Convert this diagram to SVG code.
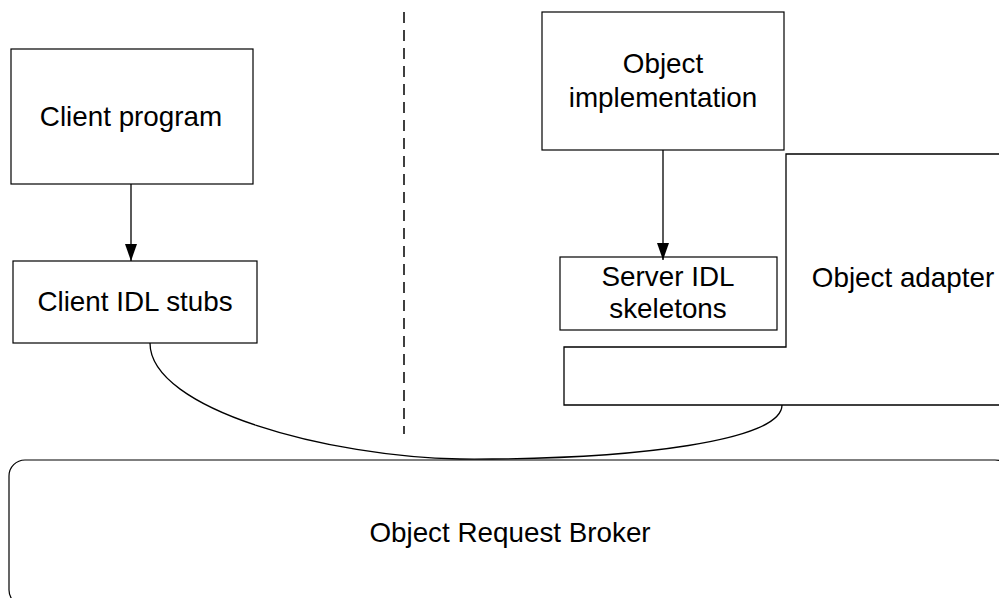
<svg xmlns="http://www.w3.org/2000/svg" width="999" height="598" viewBox="0 0 999 598">
  <defs>
    <style>
      .box { fill: #fff; stroke: #000; stroke-width: 1.2; }
      .outline { fill: none; stroke: #000; stroke-width: 1.3; }
      .label { font-family: "Liberation Sans", Arial, sans-serif; font-size: 27.8px; fill: #000; text-anchor: middle; }
      .link { fill: none; stroke: #000; stroke-width: 1.3; }
      .divider { fill: none; stroke: #000; stroke-width: 1.5; stroke-dasharray: 11 7; }
    </style>
    <marker id="arrow" viewBox="0 0 17 12" refX="17" refY="6" markerWidth="17" markerHeight="12" markerUnits="userSpaceOnUse" orient="auto">
      <path d="M0,0 L17,6 L0,12 Z" fill="#000"/>
    </marker>
  </defs>

  <rect width="999" height="598" fill="#fff"/>

  <!-- client / server divider -->
  <line class="divider" x1="404" y1="12" x2="404" y2="434"/>

  <g id="orb">
    <rect class="box" x="9" y="460" width="1002" height="146" rx="16" ry="16"/>
    <text class="label" x="510" y="542">Object Request Broker</text>
  </g>

  <g id="object-adapter">
    <path class="outline" d="M1012,154 H786 V347 H564 V405 H1012"/>
    <text class="label" x="903" y="287">Object adapter</text>
  </g>

  <g id="client-program">
    <rect class="box" x="11" y="49" width="242" height="135"/>
    <text class="label" x="131" y="126">Client program</text>
  </g>

  <g id="client-stubs">
    <rect class="box" x="13" y="261" width="244" height="82"/>
    <text class="label" x="135" y="311">Client IDL stubs</text>
  </g>

  <g id="object-implementation">
    <rect class="box" x="542" y="12" width="242" height="138"/>
    <text class="label" x="663" y="73">Object</text>
    <text class="label" x="663" y="107">implementation</text>
  </g>

  <g id="server-skeletons">
    <rect class="box" x="560" y="257" width="217" height="73"/>
    <text class="label" x="668" y="286">Server IDL</text>
    <text class="label" x="668" y="318">skeletons</text>
  </g>

  <g id="connectors">
    <line class="link" x1="131" y1="184" x2="131" y2="261" marker-end="url(#arrow)"/>
    <line class="link" x1="663" y1="150" x2="663" y2="260" marker-end="url(#arrow)"/>
    <path class="link" d="M150,343 C150,410 330,457 460,459 C640,460 782,440 782,405"/>
  </g>
</svg>
